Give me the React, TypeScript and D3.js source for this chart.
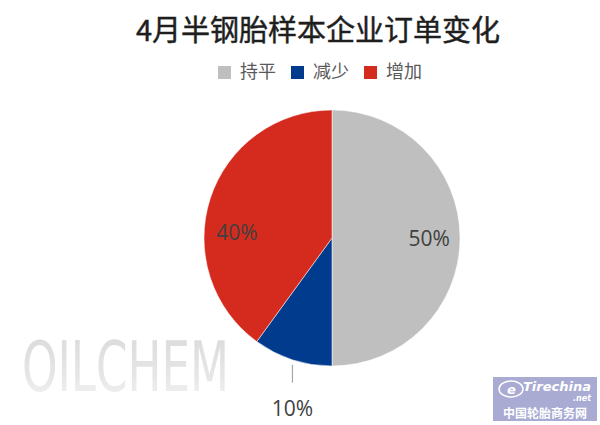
import React from "react";
import * as d3 from "d3";

const title = "4月半钢胎样本企业订单变化";
const categories = ["持平", "减少", "增加"];
const values = [50, 10, 40];
const colors = ["#BFBFBF", "#003B8E", "#D52B1E"];

const W = 600;
const H = 425;
const cx = 332;
const cy = 238;
const R = 128;

export default function App() {
  const pie = d3.pie<number>().sort(null).value((d) => d);
  const arcs = pie(values);
  const arcGen = d3.arc<d3.PieArcDatum<number>>().innerRadius(0).outerRadius(R);
  const labelArc = d3.arc<d3.PieArcDatum<number>>().innerRadius(R * 0.76).outerRadius(R * 0.76);
  const outerArc = d3.arc<d3.PieArcDatum<number>>().innerRadius(R).outerRadius(R);

  const legendX = [218, 291, 364];

  return (
    <svg width={W} height={H} style={{ position: "absolute", left: 0, top: 0, background: "#fff" }}
      fontFamily="'Noto Sans CJK SC', 'Noto Sans', sans-serif">
      <defs>
        <linearGradient id="wm" x1="0" y1="0" x2="0" y2="1">
          <stop offset="0" stopColor="#d9d9d9" />
          <stop offset="0.6" stopColor="#e6e6e6" />
          <stop offset="1" stopColor="#f5f5f5" />
        </linearGradient>
      </defs>
      <text x={318} y={41} textAnchor="middle" fontSize={29} fontWeight={400} fill="#1e1e1e"
        stroke="#1e1e1e" strokeWidth={0.45}>{title}</text>
      {categories.map((c, i) => (
        <g key={c} transform={`translate(${legendX[i]},66)`}>
          <rect x={0} y={0} width={13} height={13} fill={colors[i]} />
          <text x={22} y={12} fontSize={18} fill="#595959">{c}</text>
        </g>
      ))}
      {/* watermark */}
      <text transform="translate(22,391) scale(1,1.5)" x={0} y={0} fontSize={46} fill="url(#wm)"
        fontFamily="'DejaVu Sans Condensed', 'DejaVu Sans', sans-serif"
        textLength={207} lengthAdjust="spacingAndGlyphs">OILCHEM</text>
      <g transform={`translate(${cx},${cy})`}>
        {arcs.map((a, i) => (
          <path key={i} d={arcGen(a) || ""} fill={colors[i]} stroke="#fff" strokeWidth={0.5} />
        ))}
        {arcs.map((a, i) => {
          if (i === 1) {
            const [ox, oy] = outerArc.centroid(a);
            return (
              <g key={i}>
                <line x1={ox} y1={oy + 5} x2={ox} y2={oy + 23} stroke="#A6A6A6" strokeWidth={1.2} />
                <text x={ox} y={oy + 56} textAnchor="middle" fontSize={21} fill="#404040" fontFamily="'Open Sans', sans-serif">{values[i]}%</text>
              </g>
            );
          }
          let [lx, ly] = labelArc.centroid(a);
          if (i === 2) { lx = -95; ly = -6; }
          return (
            <text key={i} x={lx} y={ly + 8} textAnchor="middle" fontSize={21} fill="#404040" fontFamily="'Open Sans', sans-serif">{values[i]}%</text>
          );
        })}
      </g>
      {/* logo */}
      <g transform="translate(493,377)">
        <rect x={0} y={0} width={104} height={44} fill="#A9ABD3" />
        <ellipse cx={18} cy={12} rx={12} ry={8} fill="none" stroke="#fff" strokeWidth={1.5} />
        <text x={14} y={17} fontSize={13} fontStyle="italic" fontWeight={700} fill="#fff" fontFamily="'DejaVu Sans', sans-serif">e</text>
        <text x={30} y={14} fontSize={13} fontStyle="italic" fontWeight={700} fill="#fff" fontFamily="'DejaVu Sans', sans-serif">Tirechina</text>
        <text x={80} y={24} fontSize={8} fontStyle="italic" fontWeight={700} fill="#fff" fontFamily="'DejaVu Sans', sans-serif">.net</text>
        <text x={52} y={41} textAnchor="middle" fontSize={12} fontWeight={700} fill="#fff">中国轮胎商务网</text>
      </g>
    </svg>
  );
}
